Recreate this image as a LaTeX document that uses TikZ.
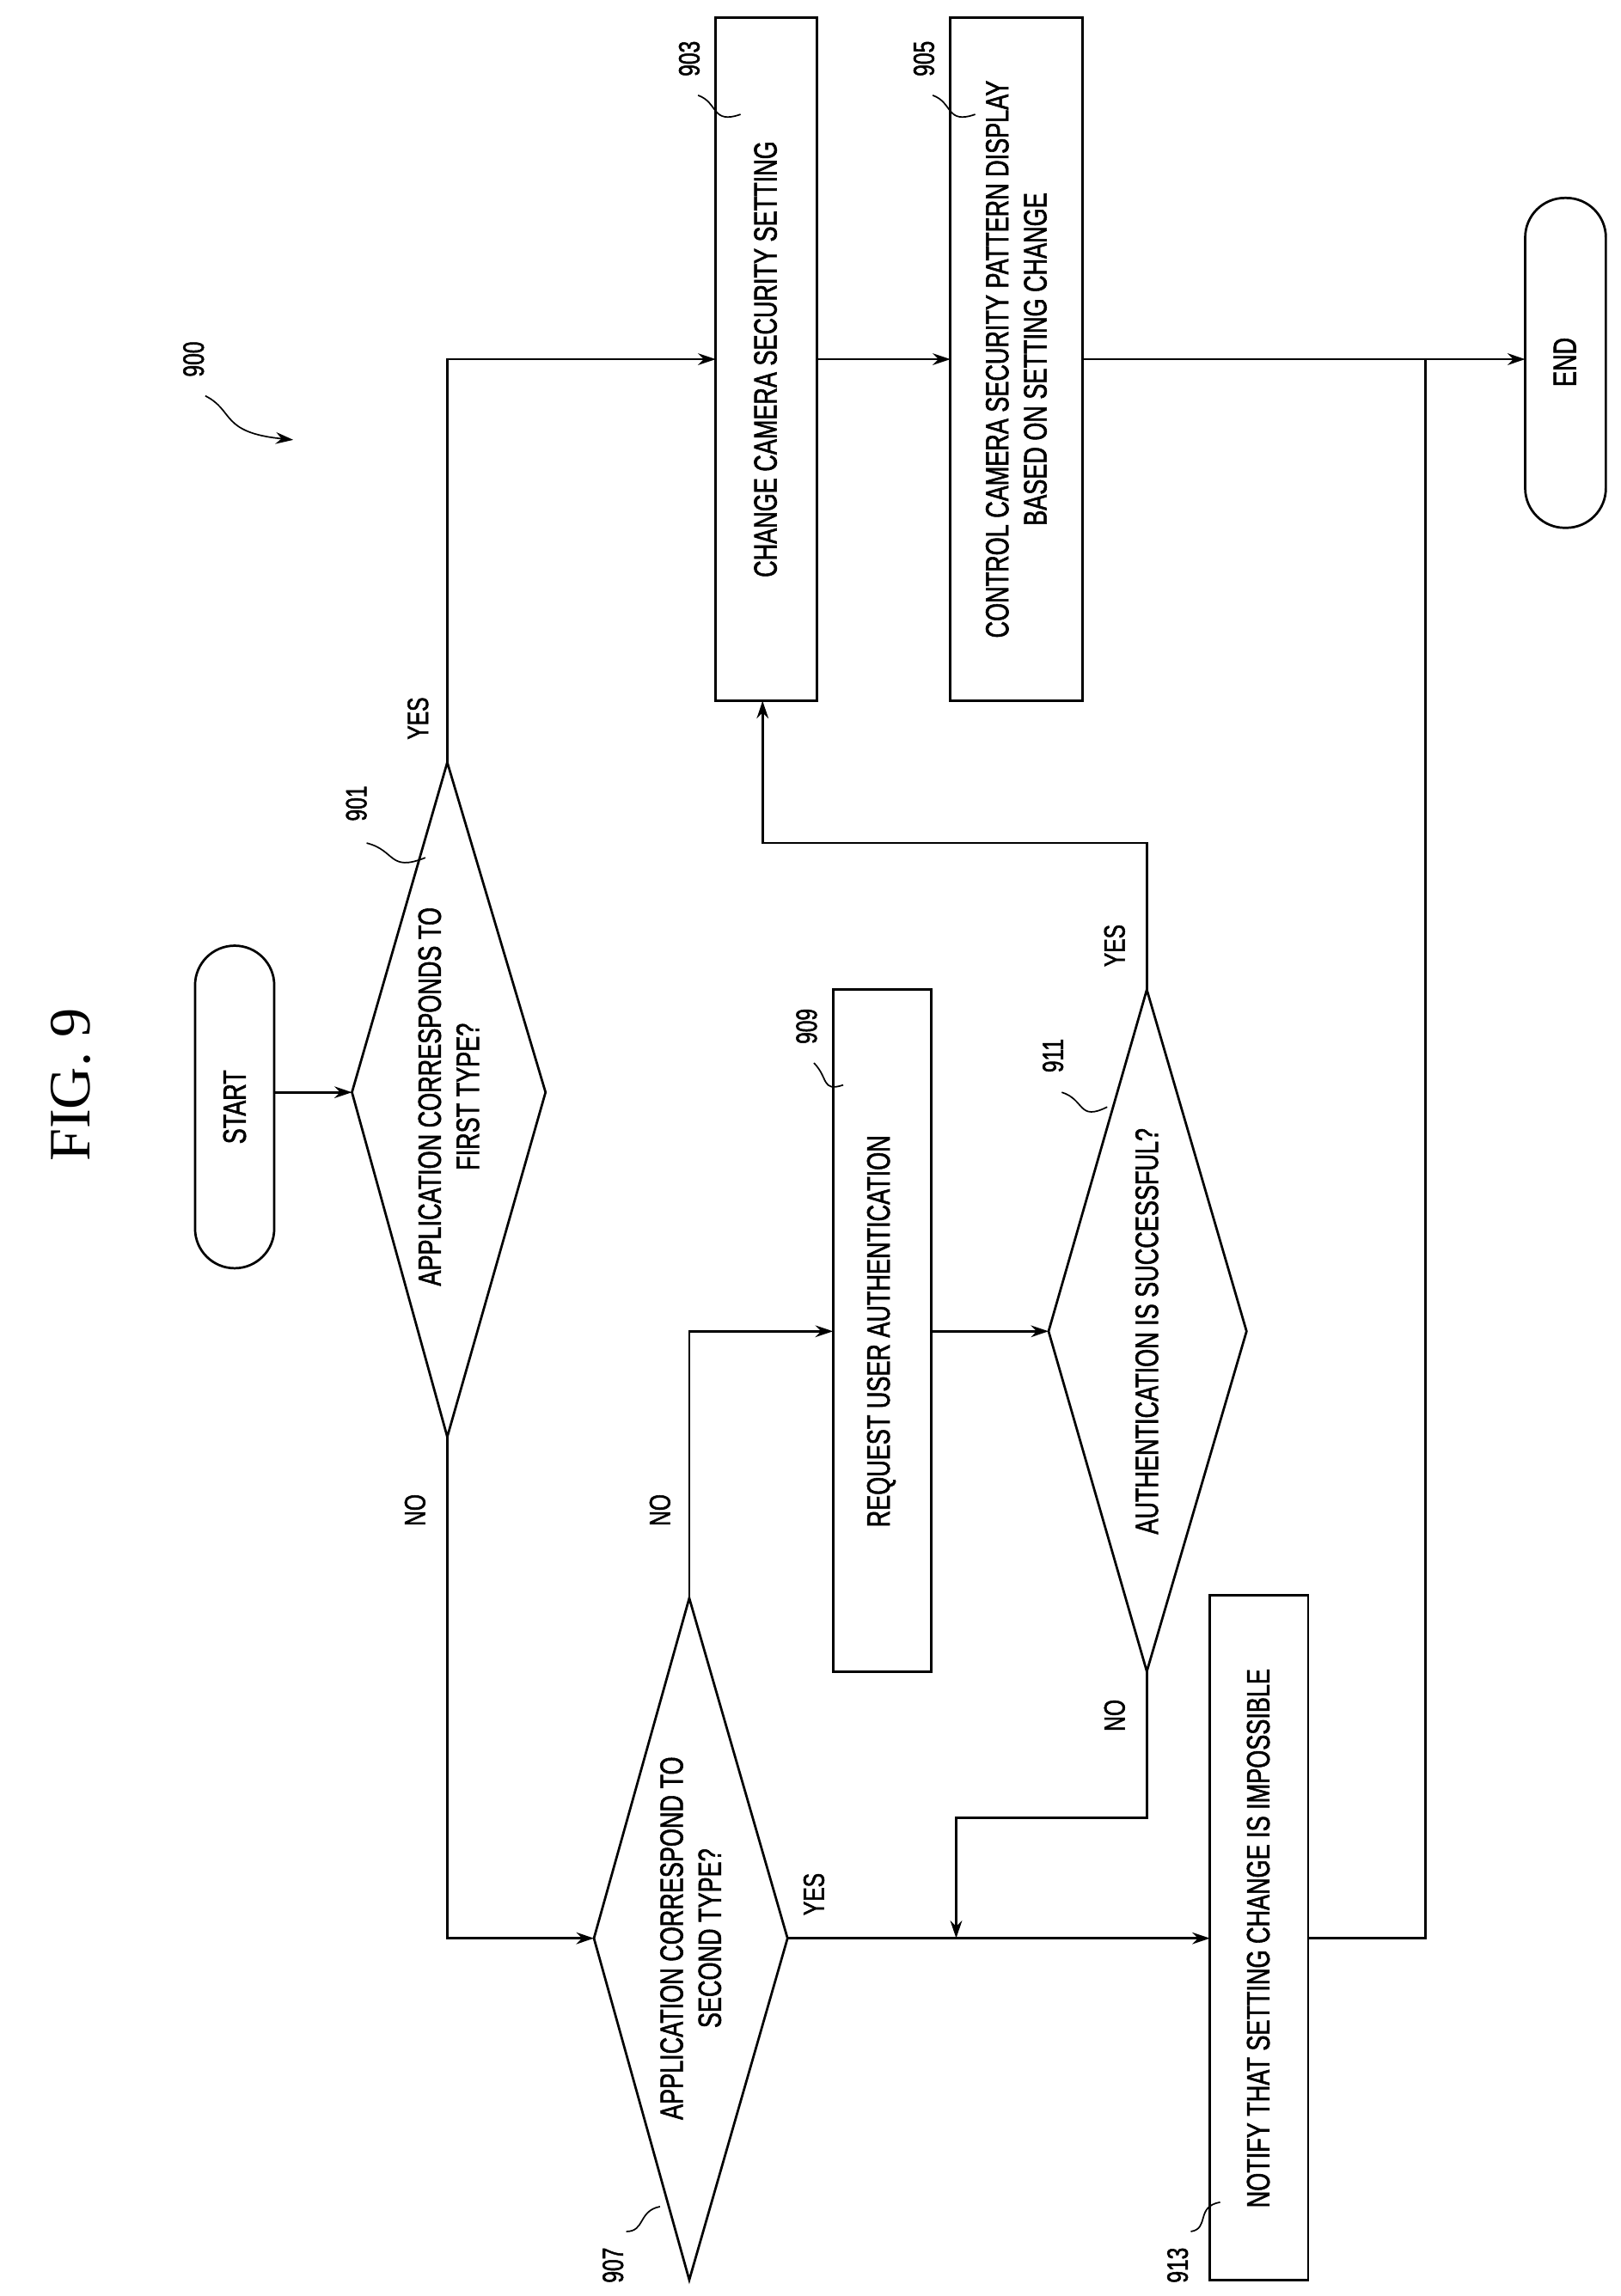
\documentclass[tikz,border=0pt]{standalone}
\usepackage{fontspec}
\setmainfont{Liberation Sans}[FakeStretch=0.72,FakeBold=1.5]
\newfontfamily\serifx{Liberation Serif}
\usetikzlibrary{shapes.geometric,arrows.meta}
\begin{document}
\begin{tikzpicture}[x=1pt,y=-1pt,line width=1.6pt,
  txt/.style={rotate=90,font=\fontsize{22}{26}\selectfont,align=center},
  box/.style={draw,rectangle},
  lbl/.style={rotate=90,font=\fontsize{20}{24}\selectfont},
  arr/.style={-{Stealth[length=12pt,width=8pt]}}]
\useasboundingbox (0,0) rectangle (1105,1566);
\node[rotate=90,font=\serifx\fontsize{40}{44}\selectfont] (fig) at (48,740) {FIG. 9};
% terminals
\draw[rounded corners=27pt] (133,645) rectangle (187,865);
\node[txt] (start) at (160,755) {START};
\draw[rounded corners=27pt] (1040,135) rectangle (1095,360);
\node[txt] (endt) at (1067,247) {END};
% boxes
\draw (488,12) rectangle (557,478); \node[txt] (b903) at (522,245) {CHANGE CAMERA SECURITY SETTING};
\draw (648,12) rectangle (738,478); \node[txt] (b905) at (693,245) {CONTROL CAMERA SECURITY PATTERN DISPLAY\\BASED ON SETTING CHANGE};
\draw (568,675) rectangle (635,1140); \node[txt] (b909) at (601,908) {REQUEST USER AUTHENTICATION};
\draw (825,1088) rectangle (892,1555); \node[txt] (b913) at (858,1322) {NOTIFY THAT SETTING CHANGE IS IMPOSSIBLE};
% diamonds
\draw (240,745)--(305,520)--(372,745)--(305,980)--cycle;
\node[txt] (d901) at (306,748) {APPLICATION CORRESPONDS TO\\FIRST TYPE?};
\draw (405,1322)--(470,1090)--(537,1322)--(470,1555)--cycle;
\node[txt] (d907) at (471,1322) {APPLICATION CORRESPOND TO\\SECOND TYPE?};
\draw (715,908)--(782,675)--(850,908)--(782,1140)--cycle;
\node[txt] (d911) at (782,908) {AUTHENTICATION IS SUCCESSFUL?};
% connectors
\draw[arr] (187,745)--(240,745);
\draw[arr] (305,520)--(305,245)--(488,245);
\draw[arr] (557,245)--(648,245);
\draw[arr] (738,245)--(1040,245);
\draw[arr] (305,980)--(305,1322)--(405,1322);
\draw[arr] (470,1090)--(470,908)--(568,908);
\draw[arr] (635,908)--(715,908);
\draw[arr] (782,675)--(782,575)--(520,575)--(520,478);
\draw[arr] (782,1140)--(782,1240)--(652,1240)--(652,1322);
\draw[arr] (537,1322)--(825,1322);
\draw (892,1322)--(972,1322)--(972,245);
% labels
\node[lbl] at (285,490) {YES};
\node[lbl] at (283,1030) {NO};
\node[lbl] at (450,1030) {NO};
\node[lbl] at (760,645) {YES};
\node[lbl] at (760,1170) {NO};
\node[lbl] at (555,1292) {YES};
\node[lbl] (n900) at (132,245) {900};
\draw[line width=1pt,arr] (140,270) .. controls (160,280) and (150,295) .. (200,300);
\node[lbl] (n901) at (243,548) {901};
\draw[line width=1pt] (250,575) .. controls (270,580) and (265,595) .. (290,585);
\node[lbl] (n903) at (470,40) {903};
\draw[line width=1pt] (476,65) .. controls (490,70) and (485,85) .. (505,78);
\node[lbl] (n905) at (630,40) {905};
\draw[line width=1pt] (636,65) .. controls (650,70) and (645,85) .. (665,78);
\node[lbl] (n909) at (550,700) {909};
\draw[line width=1pt] (555,725) .. controls (565,735) and (560,745) .. (575,740);
\node[lbl] (n911) at (718,720) {911};
\draw[line width=1pt] (724,745) .. controls (740,750) and (735,765) .. (755,755);
\node[lbl] (n907) at (418,1545) {907};
\draw[line width=1pt] (427,1522) .. controls (440,1522) and (435,1508) .. (450,1505);
\node[lbl] (n913) at (803,1545) {913};
\draw[line width=1pt] (812,1522) .. controls (825,1520) and (815,1505) .. (832,1502);
\end{tikzpicture}
\end{document}
